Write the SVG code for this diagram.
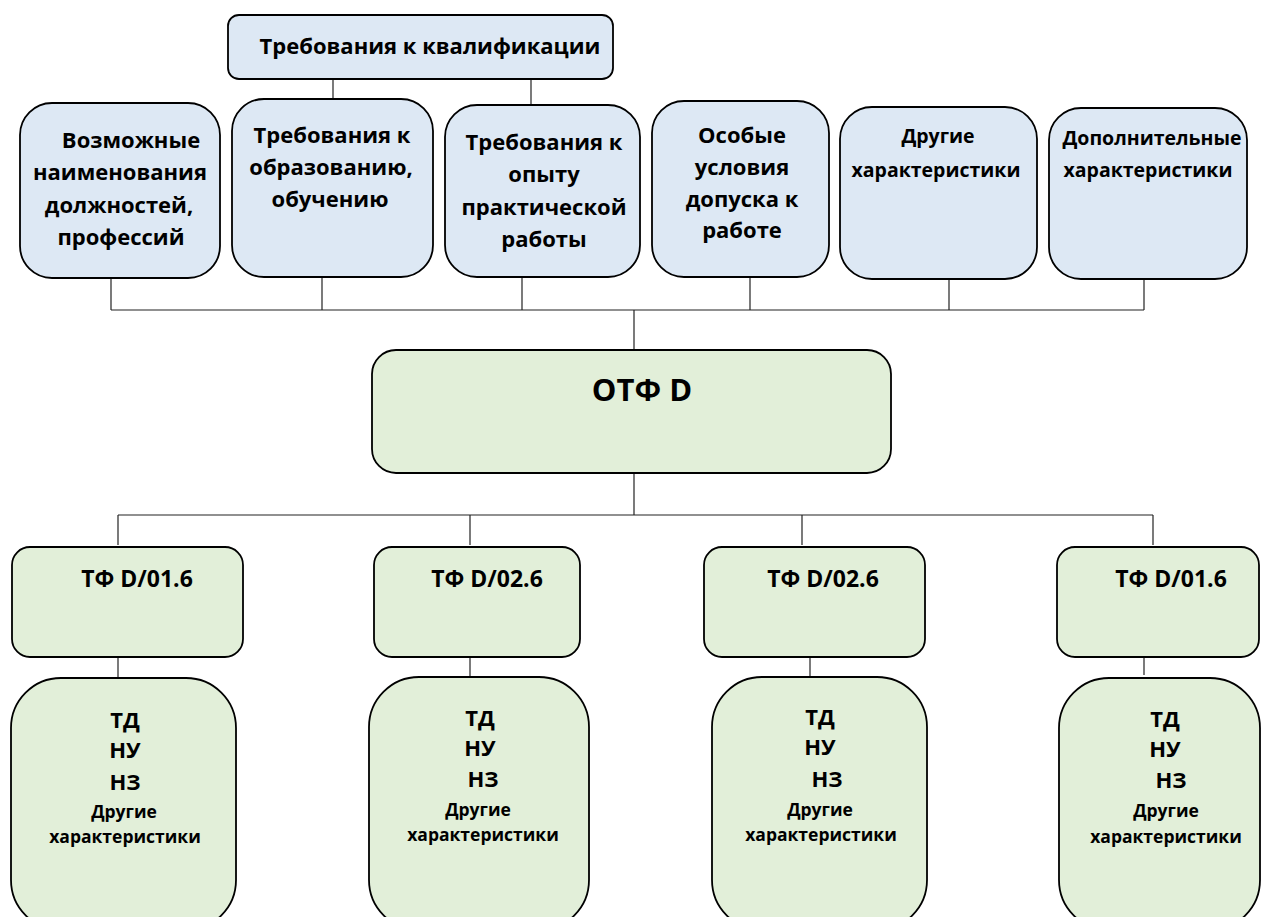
<svg xmlns="http://www.w3.org/2000/svg" width="1262" height="917" viewBox="0 0 1262 917">
<style>
.blue{fill:#dde8f4;stroke:#000;stroke-width:1.8}
.green{fill:#e2efd9;stroke:#000;stroke-width:1.8}
.conn line{stroke:#222;stroke-width:1.2}
text{font-family:"Open Sans","Noto Sans","DejaVu Sans",sans-serif;font-weight:bold;fill:#000;text-anchor:middle}
.l{font-size:22px}
.t{font-size:23px}
.m{font-size:19.5px}
.s{font-size:17.5px}
.xl{font-size:31px}
</style>
<rect width="1262" height="917" fill="#fff"/>
<g class="conn">
<line x1="333" y1="78" x2="333" y2="99"/>
<line x1="531" y1="78" x2="531" y2="104"/>
<line x1="111" y1="278" x2="111" y2="310"/>
<line x1="322" y1="277" x2="322" y2="310"/>
<line x1="522" y1="277" x2="522" y2="310"/>
<line x1="750" y1="277" x2="750" y2="310"/>
<line x1="949" y1="273" x2="949" y2="310"/>
<line x1="1144" y1="275" x2="1144" y2="310"/>
<line x1="111" y1="310" x2="1144" y2="310"/>
<line x1="634" y1="310" x2="634" y2="350"/>
<line x1="634" y1="473" x2="634" y2="515"/>
<line x1="118" y1="515" x2="1153" y2="515"/>
<line x1="118" y1="515" x2="118" y2="545"/>
<line x1="470" y1="515" x2="470" y2="545"/>
<line x1="802" y1="515" x2="802" y2="545"/>
<line x1="1153" y1="515" x2="1153" y2="545"/>
<line x1="118" y1="655" x2="118" y2="677"/>
<line x1="470" y1="655" x2="470" y2="677"/>
<line x1="810" y1="655" x2="810" y2="677"/>
<line x1="1144" y1="655" x2="1144" y2="675"/>
</g>
<g id="qual">
<rect class="blue" x="228" y="15" width="385" height="64" rx="11"/>
<text class="l" x="430" y="54">Требования к квалификации</text>
</g>
<g id="names">
<rect class="blue" x="20" y="103" width="200" height="175" rx="32"/>
<text class="l"><tspan x="131" y="148">Возможные</tspan><tspan x="120" y="180">наименования</tspan><tspan x="119" y="213">должностей,</tspan><tspan x="121" y="245">профессий</tspan></text>
</g>
<g id="edu">
<rect class="blue" x="232" y="99" width="201" height="178" rx="32"/>
<text class="l"><tspan x="332" y="143">Требования к</tspan><tspan x="331" y="175">образованию,</tspan><tspan x="330" y="207">обучению</tspan></text>
</g>
<g id="exp">
<rect class="blue" x="445" y="105" width="195" height="172" rx="32"/>
<text class="l"><tspan x="544" y="150">Требования к</tspan><tspan x="544" y="182">опыту</tspan><tspan x="544" y="215">практической</tspan><tspan x="544" y="247">работы</tspan></text>
</g>
<g id="special">
<rect class="blue" x="652" y="101" width="177" height="176" rx="32"/>
<text class="l"><tspan x="742" y="143">Особые</tspan><tspan x="742" y="175">условия</tspan><tspan x="742" y="207">допуска к</tspan><tspan x="742" y="238">работе</tspan></text>
</g>
<g id="other">
<rect class="blue" x="840" y="107" width="197" height="172" rx="32"/>
<text class="m"><tspan x="938" y="143">Другие</tspan><tspan x="936" y="177">характеристики</tspan></text>
</g>
<g id="extra">
<rect class="blue" x="1049" y="108" width="198" height="171" rx="32"/>
<text class="m"><tspan x="1152" y="145">Дополнительные</tspan><tspan x="1148" y="177">характеристики</tspan></text>
</g>
<g id="otf">
<rect class="green" x="372" y="350" width="519" height="123" rx="24"/>
<text class="xl" x="642" y="401">ОТФ D</text>
</g>
<g id="tf1">
<rect class="green" x="12" y="547" width="231" height="110" rx="18"/>
<text class="t" x="137" y="587">ТФ D/01.6</text>
</g>
<g id="tf2">
<rect class="green" x="374" y="547" width="206" height="110" rx="18"/>
<text class="t" x="487" y="587">ТФ D/02.6</text>
</g>
<g id="tf3">
<rect class="green" x="704" y="547" width="221" height="110" rx="18"/>
<text class="t" x="823" y="587">ТФ D/02.6</text>
</g>
<g id="tf4">
<rect class="green" x="1057" y="547" width="202" height="110" rx="18"/>
<text class="t" x="1171" y="587">ТФ D/01.6</text>
</g>
<g id="td1">
<rect class="green" x="11" y="678" width="225" height="252" rx="50"/>
<text class="l"><tspan x="125" y="728">ТД</tspan><tspan x="125" y="758">НУ</tspan><tspan x="125" y="790">НЗ</tspan></text>
<text class="s"><tspan x="124" y="818">Другие</tspan><tspan x="125" y="843">характеристики</tspan></text>
</g>
<g id="td2">
<rect class="green" x="369" y="677" width="220" height="253" rx="50"/>
<text class="l"><tspan x="480" y="726">ТД</tspan><tspan x="480" y="756">НУ</tspan><tspan x="483" y="787">НЗ</tspan></text>
<text class="s"><tspan x="478" y="816">Другие</tspan><tspan x="483" y="841">характеристики</tspan></text>
</g>
<g id="td3">
<rect class="green" x="712" y="677" width="215" height="253" rx="50"/>
<text class="l"><tspan x="820" y="725">ТД</tspan><tspan x="820" y="755">НУ</tspan><tspan x="827" y="787">НЗ</tspan></text>
<text class="s"><tspan x="820" y="816">Другие</tspan><tspan x="821" y="841">характеристики</tspan></text>
</g>
<g id="td4">
<rect class="green" x="1059" y="678" width="201" height="252" rx="50"/>
<text class="l"><tspan x="1165" y="727">ТД</tspan><tspan x="1165" y="757">НУ</tspan><tspan x="1171" y="788">НЗ</tspan></text>
<text class="s"><tspan x="1166" y="817">Другие</tspan><tspan x="1166" y="843">характеристики</tspan></text>
</g>
</svg>
